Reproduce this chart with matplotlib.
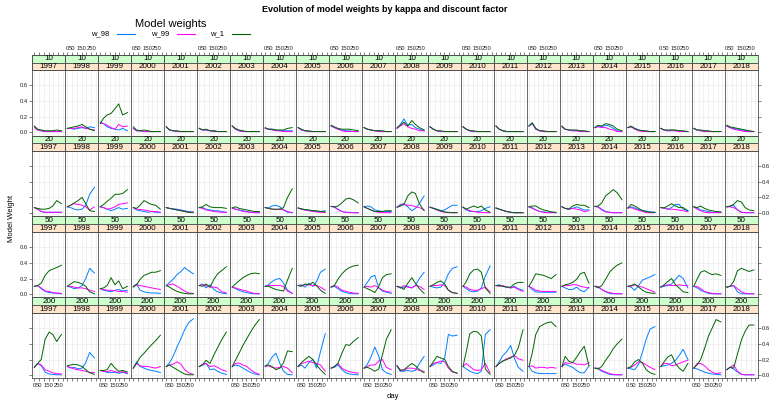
import matplotlib
matplotlib.use("Agg")
import matplotlib.pyplot as plt
from matplotlib.patches import Rectangle
from matplotlib.lines import Line2D

plt.rcParams['font.family'] = ['Liberation Sans', 'DejaVu Sans']

years = list(range(1997, 2019))
kappas = [10, 20, 50, 200]
days = [0, 34, 72, 113, 155, 193, 235, 285]

# ---- kappa 10 ----
w98_k10 = [
    [0.07, 0.03, 0.02, 0.01, 0.01, 0.01, 0.01, 0.01],
    [0.05, 0.05, 0.04, 0.05, 0.06, 0.05, 0.07, 0.06],
    [0.13, 0.11, 0.07, 0.05, 0.04, 0.03, 0.05, 0.02],
    [0.05, 0.02, 0.02, 0.01, 0.01, 0.01, 0.01, 0.01],
    [0.07, 0.03, 0.02, 0.01, 0.01, 0.01, 0.01, 0.01],
    [0.05, 0.03, 0.03, 0.02, 0.02, 0.01, 0.01, 0.01],
    [0.08, 0.04, 0.02, 0.01, 0.01, 0.01, 0.01, 0.01],
    [0.05, 0.04, 0.04, 0.03, 0.02, 0.02, 0.02, 0.02],
    [0.06, 0.03, 0.02, 0.01, 0.01, 0.01, 0.01, 0.01],
    [0.08, 0.06, 0.04, 0.03, 0.02, 0.02, 0.01, 0.01],
    [0.06, 0.04, 0.03, 0.02, 0.02, 0.01, 0.01, 0.01],
    [0.05, 0.10, 0.17, 0.09, 0.10, 0.06, 0.04, 0.02],
    [0.07, 0.04, 0.02, 0.01, 0.01, 0.01, 0.01, 0.01],
    [0.07, 0.04, 0.02, 0.01, 0.01, 0.01, 0.01, 0.01],
    [0.08, 0.04, 0.02, 0.01, 0.01, 0.01, 0.01, 0.01],
    [0.08, 0.12, 0.04, 0.02, 0.01, 0.01, 0.01, 0.01],
    [0.07, 0.04, 0.03, 0.02, 0.02, 0.02, 0.01, 0.01],
    [0.06, 0.08, 0.07, 0.09, 0.08, 0.05, 0.02, 0.01],
    [0.06, 0.07, 0.05, 0.03, 0.02, 0.01, 0.01, 0.01],
    [0.05, 0.03, 0.02, 0.03, 0.02, 0.02, 0.01, 0.01],
    [0.05, 0.03, 0.02, 0.02, 0.01, 0.01, 0.01, 0.01],
    [0.08, 0.06, 0.05, 0.04, 0.03, 0.02, 0.01, 0.01],
]
w99_k10 = [
    [0.06, 0.03, 0.02, 0.01, 0.01, 0.01, 0.01, 0.01],
    [0.05, 0.05, 0.05, 0.06, 0.07, 0.05, 0.04, 0.03],
    [0.12, 0.11, 0.09, 0.06, 0.04, 0.10, 0.07, 0.08],
    [0.05, 0.02, 0.02, 0.01, 0.01, 0.01, 0.01, 0.01],
    [0.07, 0.03, 0.02, 0.01, 0.01, 0.01, 0.01, 0.01],
    [0.05, 0.03, 0.03, 0.02, 0.01, 0.01, 0.01, 0.01],
    [0.08, 0.04, 0.02, 0.01, 0.01, 0.01, 0.01, 0.01],
    [0.05, 0.04, 0.03, 0.02, 0.02, 0.01, 0.01, 0.01],
    [0.06, 0.03, 0.02, 0.01, 0.01, 0.01, 0.01, 0.01],
    [0.08, 0.06, 0.04, 0.02, 0.01, 0.01, 0.01, 0.01],
    [0.06, 0.04, 0.03, 0.02, 0.01, 0.01, 0.01, 0.01],
    [0.05, 0.08, 0.11, 0.07, 0.05, 0.04, 0.02, 0.02],
    [0.07, 0.04, 0.02, 0.01, 0.01, 0.01, 0.01, 0.01],
    [0.07, 0.04, 0.02, 0.01, 0.01, 0.01, 0.01, 0.01],
    [0.08, 0.04, 0.02, 0.01, 0.01, 0.01, 0.01, 0.01],
    [0.08, 0.11, 0.04, 0.02, 0.01, 0.01, 0.01, 0.01],
    [0.07, 0.04, 0.03, 0.02, 0.02, 0.01, 0.01, 0.01],
    [0.06, 0.07, 0.06, 0.06, 0.04, 0.03, 0.01, 0.01],
    [0.06, 0.07, 0.04, 0.02, 0.01, 0.01, 0.01, 0.01],
    [0.05, 0.03, 0.02, 0.02, 0.02, 0.01, 0.01, 0.01],
    [0.05, 0.03, 0.02, 0.01, 0.01, 0.01, 0.01, 0.01],
    [0.08, 0.06, 0.04, 0.03, 0.02, 0.01, 0.01, 0.01],
]
w1_k10 = [
    [0.08, 0.04, 0.03, 0.02, 0.02, 0.02, 0.03, 0.02],
    [0.05, 0.06, 0.07, 0.08, 0.10, 0.07, 0.04, 0.02],
    [0.11, 0.18, 0.22, 0.24, 0.30, 0.36, 0.22, 0.25],
    [0.07, 0.03, 0.02, 0.03, 0.02, 0.01, 0.01, 0.01],
    [0.07, 0.03, 0.02, 0.02, 0.01, 0.01, 0.01, 0.01],
    [0.05, 0.03, 0.04, 0.02, 0.02, 0.01, 0.01, 0.01],
    [0.08, 0.05, 0.03, 0.02, 0.01, 0.01, 0.01, 0.01],
    [0.06, 0.04, 0.04, 0.03, 0.03, 0.03, 0.05, 0.06],
    [0.06, 0.04, 0.02, 0.02, 0.01, 0.01, 0.01, 0.01],
    [0.09, 0.07, 0.05, 0.04, 0.04, 0.04, 0.03, 0.02],
    [0.06, 0.04, 0.03, 0.02, 0.02, 0.02, 0.01, 0.01],
    [0.06, 0.09, 0.13, 0.08, 0.15, 0.10, 0.06, 0.03],
    [0.07, 0.04, 0.02, 0.02, 0.01, 0.01, 0.01, 0.01],
    [0.07, 0.04, 0.02, 0.02, 0.01, 0.01, 0.01, 0.01],
    [0.08, 0.04, 0.02, 0.01, 0.01, 0.01, 0.01, 0.01],
    [0.08, 0.12, 0.05, 0.02, 0.02, 0.01, 0.01, 0.01],
    [0.08, 0.04, 0.03, 0.03, 0.03, 0.02, 0.02, 0.01],
    [0.06, 0.09, 0.08, 0.11, 0.10, 0.08, 0.04, 0.02],
    [0.06, 0.08, 0.05, 0.03, 0.02, 0.02, 0.01, 0.01],
    [0.05, 0.03, 0.03, 0.03, 0.03, 0.02, 0.02, 0.01],
    [0.05, 0.03, 0.03, 0.02, 0.02, 0.01, 0.01, 0.01],
    [0.09, 0.07, 0.06, 0.05, 0.04, 0.03, 0.02, 0.01],
]

# ---- kappa 20 ----
w98_k20 = [
    [0.07, 0.05, 0.02, 0.01, 0.01, 0.01, 0.01, 0.01],
    [0.08, 0.07, 0.05, 0.04, 0.05, 0.10, 0.24, 0.33],
    [0.08, 0.07, 0.05, 0.03, 0.05, 0.07, 0.05, 0.06],
    [0.07, 0.04, 0.03, 0.02, 0.01, 0.02, 0.01, 0.01],
    [0.07, 0.06, 0.055, 0.05, 0.04, 0.03, 0.02, 0.01],
    [0.07, 0.07, 0.05, 0.04, 0.03, 0.03, 0.02, 0.01],
    [0.065, 0.05, 0.04, 0.03, 0.02, 0.01, 0.01, 0.005],
    [0.07, 0.065, 0.09, 0.10, 0.08, 0.04, 0.01, 0.005],
    [0.065, 0.05, 0.04, 0.035, 0.03, 0.02, 0.02, 0.03],
    [0.085, 0.08, 0.05, 0.02, 0.01, 0.01, 0.005, 0.005],
    [0.08, 0.09, 0.08, 0.04, 0.03, 0.02, 0.02, 0.02],
    [0.075, 0.11, 0.12, 0.08, 0.03, 0.06, 0.12, 0.22],
    [0.075, 0.065, 0.05, 0.03, 0.04, 0.07, 0.10, 0.10],
    [0.075, 0.04, 0.02, 0.02, 0.02, 0.03, 0.06, 0.08],
    [0.065, 0.05, 0.035, 0.02, 0.01, 0.005, 0.005, 0.005],
    [0.08, 0.07, 0.04, 0.02, 0.015, 0.01, 0.01, 0.005],
    [0.08, 0.06, 0.05, 0.06, 0.08, 0.06, 0.04, 0.04],
    [0.085, 0.08, 0.05, 0.02, 0.01, 0.005, 0.005, 0.005],
    [0.065, 0.08, 0.065, 0.045, 0.035, 0.025, 0.015, 0.01],
    [0.07, 0.065, 0.05, 0.07, 0.11, 0.11, 0.05, 0.03],
    [0.08, 0.065, 0.04, 0.03, 0.02, 0.01, 0.01, 0.01],
    [0.08, 0.085, 0.10, 0.04, 0.01, 0.005, 0.005, 0.005],
]
w99_k20 = [
    [0.07, 0.05, 0.02, 0.01, 0.01, 0.01, 0.01, 0.01],
    [0.08, 0.10, 0.12, 0.11, 0.10, 0.08, 0.04, 0.08],
    [0.08, 0.07, 0.05, 0.06, 0.08, 0.11, 0.12, 0.13],
    [0.07, 0.05, 0.045, 0.04, 0.03, 0.02, 0.02, 0.01],
    [0.07, 0.06, 0.05, 0.04, 0.03, 0.02, 0.01, 0.01],
    [0.07, 0.06, 0.04, 0.03, 0.02, 0.015, 0.01, 0.01],
    [0.065, 0.05, 0.04, 0.02, 0.015, 0.01, 0.005, 0.005],
    [0.07, 0.06, 0.05, 0.045, 0.05, 0.04, 0.02, 0.005],
    [0.065, 0.05, 0.04, 0.03, 0.02, 0.015, 0.01, 0.01],
    [0.085, 0.075, 0.045, 0.02, 0.01, 0.005, 0.005, 0.005],
    [0.08, 0.06, 0.04, 0.02, 0.01, 0.005, 0.005, 0.005],
    [0.075, 0.10, 0.11, 0.10, 0.10, 0.08, 0.07, 0.04],
    [0.075, 0.06, 0.04, 0.02, 0.01, 0.005, 0.005, 0.005],
    [0.075, 0.05, 0.03, 0.02, 0.01, 0.01, 0.005, 0.005],
    [0.065, 0.05, 0.035, 0.02, 0.01, 0.005, 0.005, 0.005],
    [0.08, 0.06, 0.04, 0.02, 0.01, 0.005, 0.005, 0.005],
    [0.08, 0.06, 0.05, 0.06, 0.05, 0.04, 0.02, 0.03],
    [0.085, 0.075, 0.04, 0.015, 0.01, 0.005, 0.005, 0.005],
    [0.065, 0.07, 0.05, 0.035, 0.02, 0.005, 0.005, 0.005],
    [0.07, 0.065, 0.05, 0.05, 0.045, 0.04, 0.03, 0.015],
    [0.08, 0.05, 0.03, 0.01, 0.005, 0.005, 0.005, 0.005],
    [0.08, 0.08, 0.07, 0.04, 0.01, 0.005, 0.005, 0.005],
]
w1_k20 = [
    [0.07, 0.06, 0.05, 0.05, 0.06, 0.09, 0.16, 0.12],
    [0.08, 0.10, 0.13, 0.16, 0.20, 0.12, 0.03, 0.02],
    [0.08, 0.11, 0.15, 0.19, 0.24, 0.24, 0.25, 0.30],
    [0.07, 0.06, 0.10, 0.16, 0.13, 0.11, 0.10, 0.05],
    [0.07, 0.06, 0.05, 0.04, 0.03, 0.02, 0.01, 0.01],
    [0.07, 0.08, 0.11, 0.08, 0.07, 0.07, 0.07, 0.06],
    [0.065, 0.08, 0.06, 0.05, 0.04, 0.03, 0.02, 0.02],
    [0.07, 0.06, 0.05, 0.05, 0.05, 0.07, 0.20, 0.31],
    [0.065, 0.055, 0.045, 0.04, 0.03, 0.03, 0.02, 0.015],
    [0.085, 0.08, 0.09, 0.13, 0.18, 0.19, 0.17, 0.13],
    [0.08, 0.06, 0.04, 0.02, 0.02, 0.02, 0.03, 0.03],
    [0.075, 0.09, 0.11, 0.22, 0.27, 0.25, 0.12, 0.03],
    [0.075, 0.06, 0.045, 0.03, 0.015, 0.01, 0.005, 0.005],
    [0.075, 0.05, 0.07, 0.09, 0.07, 0.09, 0.04, 0.01],
    [0.065, 0.05, 0.035, 0.02, 0.01, 0.005, 0.005, 0.005],
    [0.08, 0.09, 0.09, 0.06, 0.04, 0.03, 0.015, 0.01],
    [0.08, 0.06, 0.05, 0.09, 0.11, 0.10, 0.10, 0.07],
    [0.085, 0.09, 0.13, 0.22, 0.26, 0.30, 0.26, 0.17],
    [0.065, 0.11, 0.09, 0.06, 0.03, 0.02, 0.01, 0.01],
    [0.07, 0.065, 0.09, 0.12, 0.09, 0.07, 0.07, 0.03],
    [0.08, 0.07, 0.09, 0.06, 0.04, 0.03, 0.02, 0.015],
    [0.08, 0.09, 0.11, 0.16, 0.14, 0.07, 0.04, 0.03],
]

# ---- kappa 50 ----
w98_k50 = [
    [0.10, 0.11, 0.07, 0.035, 0.02, 0.015, 0.01, 0.005],
    [0.10, 0.09, 0.07, 0.08, 0.11, 0.20, 0.33, 0.27],
    [0.07, 0.05, 0.04, 0.03, 0.05, 0.06, 0.04, 0.05],
    [0.10, 0.13, 0.05, 0.03, 0.02, 0.015, 0.015, 0.01],
    [0.11, 0.15, 0.19, 0.25, 0.29, 0.34, 0.30, 0.26],
    [0.11, 0.13, 0.08, 0.12, 0.06, 0.03, 0.015, 0.005],
    [0.09, 0.07, 0.05, 0.03, 0.02, 0.01, 0.005, 0.005],
    [0.10, 0.12, 0.16, 0.19, 0.20, 0.14, 0.05, 0.01],
    [0.11, 0.12, 0.09, 0.14, 0.10, 0.16, 0.28, 0.32],
    [0.09, 0.10, 0.07, 0.035, 0.02, 0.01, 0.005, 0.005],
    [0.09, 0.15, 0.22, 0.24, 0.08, 0.04, 0.025, 0.01],
    [0.10, 0.08, 0.09, 0.10, 0.08, 0.11, 0.20, 0.28],
    [0.10, 0.09, 0.08, 0.09, 0.15, 0.26, 0.33, 0.35],
    [0.10, 0.07, 0.04, 0.03, 0.04, 0.08, 0.23, 0.36],
    [0.11, 0.12, 0.10, 0.09, 0.08, 0.10, 0.07, 0.05],
    [0.10, 0.06, 0.03, 0.025, 0.025, 0.025, 0.025, 0.025],
    [0.10, 0.08, 0.06, 0.06, 0.09, 0.05, 0.03, 0.09],
    [0.10, 0.09, 0.06, 0.03, 0.01, 0.005, 0.005, 0.005],
    [0.10, 0.09, 0.05, 0.11, 0.18, 0.20, 0.22, 0.25],
    [0.09, 0.10, 0.11, 0.13, 0.19, 0.24, 0.20, 0.08],
    [0.10, 0.08, 0.05, 0.03, 0.01, 0.005, 0.005, 0.005],
    [0.09, 0.10, 0.11, 0.03, 0.005, 0.005, 0.005, 0.005],
]
w99_k50 = [
    [0.10, 0.11, 0.08, 0.04, 0.035, 0.02, 0.015, 0.01],
    [0.10, 0.10, 0.09, 0.08, 0.08, 0.07, 0.05, 0.035],
    [0.07, 0.06, 0.05, 0.05, 0.045, 0.035, 0.035, 0.025],
    [0.10, 0.12, 0.11, 0.10, 0.09, 0.08, 0.07, 0.06],
    [0.11, 0.12, 0.13, 0.10, 0.07, 0.04, 0.015, 0.01],
    [0.11, 0.12, 0.11, 0.09, 0.09, 0.08, 0.03, 0.015],
    [0.09, 0.08, 0.065, 0.05, 0.04, 0.02, 0.01, 0.005],
    [0.10, 0.11, 0.11, 0.11, 0.11, 0.10, 0.04, 0.01],
    [0.11, 0.11, 0.12, 0.12, 0.11, 0.11, 0.09, 0.05],
    [0.09, 0.11, 0.09, 0.05, 0.035, 0.025, 0.015, 0.01],
    [0.09, 0.10, 0.09, 0.11, 0.08, 0.05, 0.035, 0.025],
    [0.10, 0.08, 0.11, 0.09, 0.08, 0.11, 0.10, 0.06],
    [0.10, 0.11, 0.11, 0.12, 0.11, 0.05, 0.02, 0.01],
    [0.10, 0.09, 0.06, 0.05, 0.05, 0.07, 0.09, 0.03],
    [0.11, 0.10, 0.11, 0.09, 0.08, 0.09, 0.06, 0.035],
    [0.10, 0.08, 0.05, 0.04, 0.035, 0.035, 0.035, 0.035],
    [0.10, 0.11, 0.11, 0.12, 0.12, 0.10, 0.09, 0.08],
    [0.10, 0.10, 0.06, 0.035, 0.02, 0.01, 0.005, 0.005],
    [0.10, 0.10, 0.12, 0.10, 0.09, 0.07, 0.05, 0.025],
    [0.09, 0.11, 0.12, 0.11, 0.11, 0.12, 0.11, 0.11],
    [0.10, 0.10, 0.07, 0.035, 0.02, 0.01, 0.005, 0.005],
    [0.09, 0.10, 0.11, 0.07, 0.03, 0.01, 0.005, 0.005],
]
w1_k50 = [
    [0.10, 0.11, 0.14, 0.24, 0.30, 0.32, 0.34, 0.37],
    [0.10, 0.13, 0.16, 0.15, 0.13, 0.10, 0.03, 0.005],
    [0.07, 0.08, 0.11, 0.21, 0.12, 0.17, 0.07, 0.10],
    [0.09, 0.12, 0.19, 0.24, 0.26, 0.28, 0.28, 0.30],
    [0.11, 0.09, 0.06, 0.035, 0.02, 0.01, 0.005, 0.005],
    [0.11, 0.10, 0.13, 0.09, 0.19, 0.26, 0.30, 0.35],
    [0.09, 0.13, 0.17, 0.21, 0.24, 0.26, 0.27, 0.26],
    [0.10, 0.10, 0.08, 0.06, 0.05, 0.04, 0.18, 0.33],
    [0.11, 0.10, 0.13, 0.12, 0.15, 0.11, 0.05, 0.01],
    [0.09, 0.11, 0.19, 0.26, 0.31, 0.34, 0.36, 0.37],
    [0.09, 0.07, 0.05, 0.02, 0.10, 0.21, 0.25, 0.26],
    [0.10, 0.09, 0.06, 0.14, 0.21, 0.14, 0.07, 0.01],
    [0.10, 0.12, 0.15, 0.17, 0.13, 0.05, 0.02, 0.01],
    [0.10, 0.16, 0.26, 0.31, 0.32, 0.28, 0.08, 0.01],
    [0.11, 0.11, 0.10, 0.09, 0.09, 0.13, 0.15, 0.15],
    [0.10, 0.17, 0.26, 0.25, 0.24, 0.22, 0.20, 0.25],
    [0.10, 0.12, 0.13, 0.15, 0.19, 0.26, 0.28, 0.14],
    [0.10, 0.08, 0.11, 0.19, 0.28, 0.33, 0.37, 0.40],
    [0.10, 0.11, 0.13, 0.09, 0.05, 0.025, 0.015, 0.01],
    [0.09, 0.12, 0.16, 0.20, 0.12, 0.08, 0.03, 0.02],
    [0.10, 0.19, 0.28, 0.30, 0.27, 0.25, 0.26, 0.24],
    [0.09, 0.10, 0.16, 0.30, 0.33, 0.31, 0.29, 0.31],
]

# ---- kappa 200 ----
w98_k200 = [
    [0.10, 0.15, 0.12, 0.04, 0.015, 0.01, 0.005, 0.005],
    [0.11, 0.09, 0.10, 0.08, 0.09, 0.16, 0.29, 0.22],
    [0.06, 0.05, 0.035, 0.035, 0.035, 0.025, 0.035, 0.02],
    [0.09, 0.17, 0.11, 0.09, 0.07, 0.06, 0.05, 0.035],
    [0.11, 0.16, 0.24, 0.36, 0.47, 0.58, 0.67, 0.72],
    [0.11, 0.13, 0.15, 0.07, 0.08, 0.05, 0.025, 0.01],
    [0.11, 0.13, 0.12, 0.09, 0.06, 0.035, 0.015, 0.005],
    [0.11, 0.15, 0.23, 0.28, 0.15, 0.05, 0.01, 0.005],
    [0.11, 0.13, 0.09, 0.16, 0.20, 0.09, 0.30, 0.53],
    [0.09, 0.10, 0.13, 0.07, 0.03, 0.015, 0.01, 0.005],
    [0.09, 0.14, 0.23, 0.36, 0.24, 0.07, 0.03, 0.01],
    [0.12, 0.05, 0.05, 0.06, 0.05, 0.06, 0.15, 0.24],
    [0.11, 0.13, 0.16, 0.15, 0.22, 0.52, 0.50, 0.51],
    [0.11, 0.08, 0.05, 0.03, 0.02, 0.05, 0.52, 0.58],
    [0.11, 0.17, 0.25, 0.30, 0.38, 0.22, 0.10, 0.05],
    [0.11, 0.05, 0.03, 0.02, 0.02, 0.02, 0.02, 0.02],
    [0.11, 0.14, 0.12, 0.10, 0.06, 0.03, 0.03, 0.12],
    [0.09, 0.08, 0.05, 0.03, 0.01, 0.005, 0.005, 0.005],
    [0.09, 0.08, 0.07, 0.14, 0.30, 0.46, 0.59, 0.62],
    [0.11, 0.12, 0.13, 0.15, 0.19, 0.25, 0.33, 0.20],
    [0.09, 0.08, 0.06, 0.04, 0.025, 0.015, 0.01, 0.005],
    [0.07, 0.10, 0.08, 0.04, 0.01, 0.005, 0.005, 0.005],
]
w99_k200 = [
    [0.10, 0.15, 0.13, 0.07, 0.05, 0.03, 0.02, 0.015],
    [0.11, 0.10, 0.08, 0.07, 0.06, 0.05, 0.035, 0.035],
    [0.06, 0.05, 0.045, 0.06, 0.045, 0.035, 0.045, 0.025],
    [0.09, 0.15, 0.12, 0.11, 0.11, 0.10, 0.09, 0.11],
    [0.11, 0.13, 0.14, 0.17, 0.14, 0.07, 0.03, 0.01],
    [0.11, 0.14, 0.15, 0.11, 0.12, 0.10, 0.07, 0.05],
    [0.11, 0.15, 0.155, 0.13, 0.11, 0.07, 0.035, 0.01],
    [0.11, 0.12, 0.10, 0.09, 0.10, 0.11, 0.09, 0.03],
    [0.11, 0.15, 0.16, 0.18, 0.16, 0.15, 0.13, 0.05],
    [0.09, 0.11, 0.15, 0.09, 0.06, 0.045, 0.035, 0.025],
    [0.09, 0.11, 0.13, 0.13, 0.18, 0.20, 0.10, 0.07],
    [0.12, 0.07, 0.06, 0.09, 0.09, 0.08, 0.06, 0.05],
    [0.11, 0.15, 0.16, 0.18, 0.17, 0.09, 0.04, 0.025],
    [0.11, 0.15, 0.11, 0.07, 0.06, 0.07, 0.15, 0.03],
    [0.11, 0.15, 0.18, 0.21, 0.23, 0.25, 0.21, 0.19],
    [0.11, 0.12, 0.09, 0.10, 0.10, 0.09, 0.10, 0.09],
    [0.11, 0.16, 0.15, 0.16, 0.14, 0.14, 0.13, 0.16],
    [0.09, 0.09, 0.06, 0.04, 0.02, 0.01, 0.005, 0.005],
    [0.09, 0.10, 0.13, 0.17, 0.16, 0.13, 0.10, 0.07],
    [0.11, 0.15, 0.15, 0.12, 0.13, 0.15, 0.17, 0.19],
    [0.09, 0.15, 0.15, 0.12, 0.07, 0.04, 0.02, 0.03],
    [0.07, 0.10, 0.13, 0.05, 0.01, 0.005, 0.005, 0.005],
]
w1_k200 = [
    [0.10, 0.15, 0.20, 0.46, 0.55, 0.52, 0.43, 0.52],
    [0.12, 0.13, 0.14, 0.13, 0.11, 0.07, 0.03, 0.01],
    [0.06, 0.06, 0.07, 0.15, 0.09, 0.05, 0.06, 0.04],
    [0.09, 0.15, 0.23, 0.28, 0.34, 0.39, 0.44, 0.51],
    [0.11, 0.13, 0.10, 0.07, 0.04, 0.015, 0.005, 0.005],
    [0.11, 0.13, 0.19, 0.15, 0.26, 0.35, 0.45, 0.55],
    [0.11, 0.19, 0.28, 0.38, 0.47, 0.55, 0.63, 0.71],
    [0.12, 0.13, 0.11, 0.07, 0.09, 0.16, 0.31, 0.30],
    [0.11, 0.16, 0.20, 0.24, 0.20, 0.13, 0.07, 0.01],
    [0.09, 0.11, 0.15, 0.28, 0.39, 0.38, 0.43, 0.48],
    [0.09, 0.10, 0.08, 0.05, 0.08, 0.26, 0.46, 0.58],
    [0.12, 0.06, 0.07, 0.11, 0.15, 0.12, 0.07, 0.03],
    [0.11, 0.17, 0.24, 0.22, 0.20, 0.11, 0.05, 0.025],
    [0.11, 0.30, 0.53, 0.56, 0.55, 0.50, 0.08, 0.01],
    [0.11, 0.15, 0.18, 0.20, 0.22, 0.25, 0.35, 0.58],
    [0.11, 0.28, 0.52, 0.62, 0.65, 0.67, 0.68, 0.62],
    [0.11, 0.24, 0.18, 0.16, 0.23, 0.30, 0.37, 0.12],
    [0.09, 0.08, 0.11, 0.19, 0.26, 0.34, 0.40, 0.46],
    [0.09, 0.11, 0.17, 0.20, 0.15, 0.07, 0.03, 0.01],
    [0.11, 0.17, 0.23, 0.26, 0.15, 0.09, 0.05, 0.15],
    [0.09, 0.13, 0.20, 0.34, 0.50, 0.60, 0.71, 0.68],
    [0.07, 0.10, 0.09, 0.27, 0.45, 0.56, 0.64, 0.64],
]

w98 = [w98_k10, w98_k20, w98_k50, w98_k200]
w99 = [w99_k10, w99_k20, w99_k50, w99_k200]
w1 = [w1_k10, w1_k20, w1_k50, w1_k200]

series_names = ['w_98', 'w_99', 'w_1']
series_colors = ['#0080ff', '#ff00ff', '#006400']

W, H = 770, 400
fig = plt.figure(figsize=(W / 100, H / 100), dpi=100)


def fbox(x0, y0, x1, y1):
    # pixel box (top-left origin) -> figure fraction rect
    return [x0 / W, 1 - y1 / H, (x1 - x0) / W, (y1 - y0) / H]


col_left = 32.3
col_w = 32.97
strip_top = [55.0, 135.5, 216.2, 297.3]
panel_top = [70.0, 151.3, 232.3, 313.3]
panel_bot = [135.5, 216.2, 297.3, 378.3]

edge = '#4d4d4d'
xlim = (-22, 325)
ylim = (-0.04, 0.79)
xticks = [0, 50, 100, 150, 200, 250, 300]
xlabels = ['0', '50', '', '150', '', '250', '']
yticks = [0.0, 0.2, 0.4, 0.6]
ylabels = ['0.0', '0.2', '0.4', '0.6']
tick_kw = dict(length=2.2, width=0.5, color=edge, labelsize=4.2, pad=1,
               labelcolor='#222222')

for r, k in enumerate(kappas):
    for c, yr in enumerate(years):
        x0 = col_left + c * col_w
        x1 = x0 + col_w
        ax = fig.add_axes(fbox(x0, panel_top[r], x1, panel_bot[r]))
        ax.set_xlim(*xlim)
        ax.set_ylim(*ylim)
        for v in xticks:
            ax.axvline(v, color='#ebebeb', lw=0.5, zorder=0)
        for v in yticks:
            ax.axhline(v, color='#ebebeb', lw=0.5, zorder=0)
        for data, col in zip([w98, w99, w1], series_colors):
            ax.plot(days, data[r][c], color=col, lw=0.7, zorder=2)
        for s in ax.spines.values():
            s.set_color(edge)
            s.set_linewidth(0.6)

        ax.set_xticks(xticks)
        ax.set_xticklabels(xlabels if c % 2 == 0 else [''] * len(xticks))
        ax.tick_params(axis='x', direction='out', **tick_kw)
        if r != 3:
            ax.tick_params(axis='x', bottom=False, labelbottom=False)

        ax.set_yticks(yticks)
        ax.set_yticklabels(ylabels)
        ax.tick_params(axis='y', direction='out', **tick_kw)
        ax.tick_params(axis='y', left=(c == 0), right=(c == 21),
                       labelleft=(c == 0 and r in (0, 2)),
                       labelright=(c == 21 and r in (1, 3)))

        # strips: kappa on top (green), year below (orange)
        sax = fig.add_axes(fbox(x0, strip_top[r], x1, panel_top[r]))
        sax.set_xlim(*xlim)
        sax.set_ylim(0, 2)
        sax.add_patch(Rectangle((xlim[0], 0), xlim[1] - xlim[0], 1,
                                facecolor='#ffe5cc', edgecolor=edge, lw=0.6))
        sax.add_patch(Rectangle((xlim[0], 1), xlim[1] - xlim[0], 1,
                                facecolor='#ccffcc', edgecolor=edge, lw=0.6))
        xm = (xlim[0] + xlim[1]) / 2
        sax.text(xm, 0.5, str(yr), ha='center', va='center', fontsize=5.8)
        sax.text(xm, 1.5, str(k), ha='center', va='center', fontsize=5.8)
        for s in sax.spines.values():
            s.set_color(edge)
            s.set_linewidth(0.6)
        sax.set_yticks([])
        if r == 0:
            sax.set_xticks(xticks)
            sax.set_xticklabels(xlabels if c % 2 == 1 else [''] * len(xticks))
            sax.tick_params(axis='x', direction='out', bottom=False,
                            labelbottom=False, top=True, labeltop=True, **tick_kw)
        else:
            sax.set_xticks([])

# titles and labels
fig.text(385 / W, 1 - 10 / H, 'Evolution of model weights by kappa and discount factor',
         ha='center', va='center', fontsize=6.5, fontweight='bold')
fig.text(12 / W, 1 - 218 / H, 'Model Weight', rotation=90, ha='center',
         va='center', fontsize=5.5)
fig.text(393 / W, 1 - 396 / H, 'day', ha='center', va='center', fontsize=5.5)

# legend
fig.text(171 / W, 1 - 24 / H, 'Model weights', ha='center', va='center', fontsize=8)
leg_text_x = [100, 160, 217]
leg_line_x = [(117, 135), (177, 195), (232, 250)]
for name, col, tx, (la, lb) in zip(series_names, series_colors, leg_text_x, leg_line_x):
    fig.text(tx / W, 1 - 34 / H, name, ha='center', va='center', fontsize=5.5)
    fig.add_artist(Line2D([la / W, lb / W], [1 - 34 / H, 1 - 34 / H],
                          transform=fig.transFigure, color=col, lw=0.8))

fig.savefig('out.png', dpi=100)
